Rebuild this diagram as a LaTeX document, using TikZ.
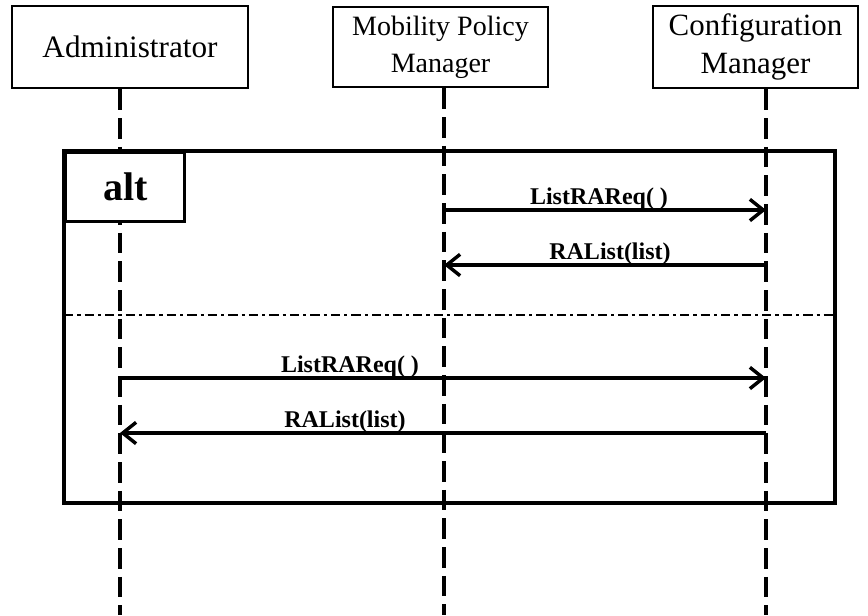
\documentclass[tikz,border=0pt]{standalone}
\usepackage{fontspec}
\setmainfont{Liberation Serif}
\usetikzlibrary{arrows.meta}

\begin{document}
\begin{tikzpicture}[x=0.75pt,y=-0.75pt,
  hdr/.style={draw, line width=2.2pt, fill=white, align=center, inner sep=0pt},
  lifeline/.style={line width=2.4pt, dash pattern=on 15.5pt off 6pt},
  frame/.style={line width=2.6pt},
  sep/.style={line width=2pt, dash pattern=on 7pt off 3pt on 2.4pt off 3pt},
  msg/.style={line width=2.6pt, -{Straight Barb[length=10pt,width=16pt]}},
  msglabel/.style={anchor=base, inner sep=0pt, font=\fontsize{18}{20}\selectfont\bfseries}
]
\useasboundingbox (0,0) rectangle (868,615);

% participants
\node[hdr, minimum width=177pt, minimum height=61.5pt,
      font=\fontsize{23.4}{28}\selectfont] (adm) at (130,47) {Administrator};
\node[hdr, minimum width=161.25pt, minimum height=60pt,
      font=\fontsize{21}{27.5}\selectfont] (mpm) at (440.5,47) {Mobility Policy\\Manager};
\node[hdr, minimum width=153.75pt, minimum height=61.5pt,
      font=\fontsize{23.2}{28}\selectfont] (cfg) at (755.5,47) {Configuration\\Manager};

% lifeline ends
\coordinate (admBot) at (120,615);
\coordinate (mpmBot) at (444,615);
\coordinate (cfgBot) at (766,615);

\draw[lifeline] (adm.south -| admBot) -- (admBot);
\draw[lifeline] (mpm.south -| mpmBot) -- (mpmBot);
\draw[lifeline] (cfg.south -| cfgBot) -- (cfgBot);

% combined fragment
\coordinate (fragTL) at (64,151);
\coordinate (fragBR) at (835,503);
\draw[frame] (fragTL) rectangle (fragBR);
\node[draw, line width=2.6pt, fill=white, anchor=north west, minimum width=89.25pt,
      minimum height=51.75pt, inner sep=0pt, font=\fontsize{30}{34}\selectfont\bfseries]
      (alt) at (fragTL) {alt};

% operand separator
\coordinate (sepL) at (64,315);
\coordinate (sepR) at (835,315);
\draw[sep] (sepL) -- (sepR);

% message anchors on the lifelines
\coordinate (m1s) at (444,210); \coordinate (m1e) at (766,210);
\coordinate (m2s) at (766,265); \coordinate (m2e) at (444,265);
\coordinate (m3s) at (120,378); \coordinate (m3e) at (766,378);
\coordinate (m4s) at (766,433); \coordinate (m4e) at (120,433);

\draw[msg] (m1s) -- (m1e);
\draw[msg] (m2s) -- (m2e);
\draw[msg] (m3s) -- (m3e);
\draw[msg] (m4s) -- (m4e);

\node[msglabel] (l1) at (599,204) {ListRAReq( )};
\node[msglabel] (l2) at (610,259) {RAList(list)};
\node[msglabel] (l3) at (350,372) {ListRAReq( )};
\node[msglabel] (l4) at (345,427) {RAList(list)};
\end{tikzpicture}
\end{document}
